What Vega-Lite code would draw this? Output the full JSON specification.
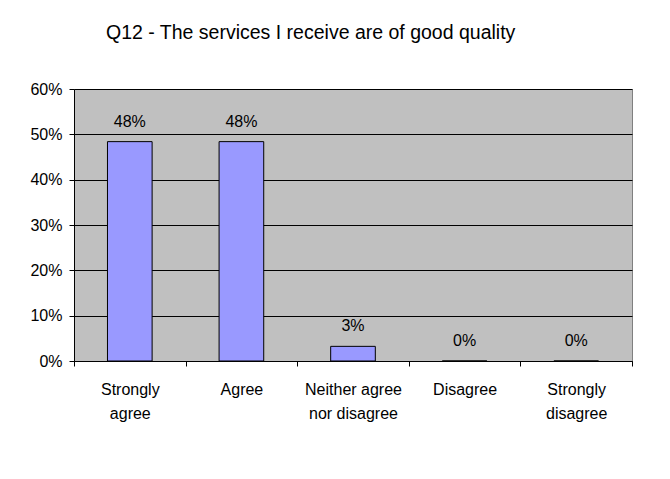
{
  "$schema": "https://vega.github.io/schema/vega-lite/v6.json",
  "width": 558,
  "height": 272,
  "autosize": {"type": "none"},
  "padding": {"left": 74, "top": 89, "right": 38, "bottom": 118},
  "background": "white",
  "title": {
    "text": "Q12 - The services I receive are of good quality",
    "font": "Liberation Sans",
    "fontSize": 19.5,
    "fontWeight": "normal",
    "color": "black",
    "anchor": "start",
    "frame": "group",
    "dx": 32,
    "baseline": "alphabetic",
    "offset": 23
  },
  "data": {
    "values": [
      {"response": "Strongly agree", "share": 0.4839},
      {"response": "Agree", "share": 0.4839},
      {"response": "Neither agree nor disagree", "share": 0.0323},
      {"response": "Disagree", "share": 0},
      {"response": "Strongly disagree", "share": 0}
    ]
  },
  "encoding": {
    "x": {
      "field": "response",
      "type": "nominal",
      "sort": null,
      "scale": {"paddingInner": 0, "paddingOuter": 0},
      "axis": {
        "title": null,
        "labelAngle": 0,
        "labelFont": "Liberation Sans",
        "labelFontSize": 16,
        "labelColor": "black",
        "labelLineHeight": 24,
        "labelPadding": 15,
        "tickBand": "extent",
        "tickSize": 5,
        "tickColor": "black",
        "domainColor": "black",
        "labelExpr": "datum.value == 'Strongly agree' ? ['Strongly', 'agree'] : datum.value == 'Neither agree nor disagree' ? ['Neither agree', 'nor disagree'] : datum.value == 'Strongly disagree' ? ['Strongly', 'disagree'] : datum.value"
      }
    },
    "y": {
      "field": "share",
      "type": "quantitative",
      "scale": {"domain": [0, 0.6], "nice": false},
      "axis": {
        "title": null,
        "values": [0, 0.1, 0.2, 0.3, 0.4, 0.5, 0.6],
        "format": ".0%",
        "labelFont": "Liberation Sans",
        "labelFontSize": 16,
        "labelColor": "black",
        "labelPadding": 7,
        "tickSize": 5,
        "tickColor": "black",
        "domainColor": "black",
        "grid": true,
        "gridColor": "black",
        "gridOpacity": 1,
        "gridWidth": 1
      }
    }
  },
  "layer": [
    {
      "mark": {"type": "bar", "width": {"band": 0.4}, "color": "#9999FF", "stroke": "black", "strokeWidth": 1}
    },
    {
      "mark": {"type": "text", "baseline": "alphabetic", "dy": -15, "font": "Liberation Sans", "fontSize": 16, "color": "black"},
      "encoding": {"text": {"field": "share", "type": "quantitative", "format": ".0%"}}
    }
  ],
  "config": {
    "view": {"fill": "#C0C0C0", "stroke": "#808080", "strokeWidth": 1}
  }
}
